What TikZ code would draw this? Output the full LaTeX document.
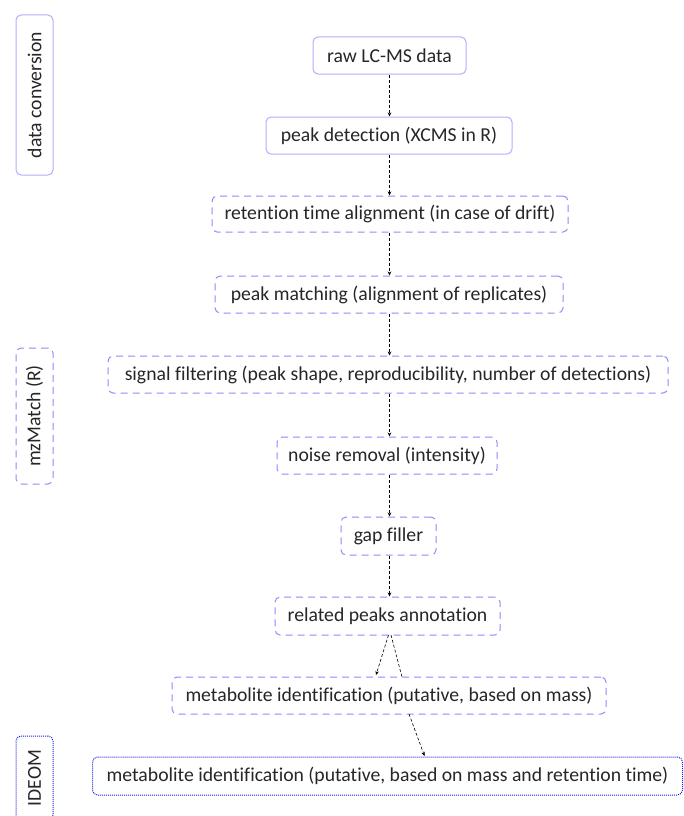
\documentclass[tikz,border=0pt]{standalone}
\usepackage{fontspec}
\setmainfont{Carlito}[Ligatures={NoCommon,NoContextual}]
\usetikzlibrary{arrows.meta}
\definecolor{solidc}{RGB}{175,175,250}
\definecolor{dashc}{RGB}{140,140,250}
\definecolor{dotc}{RGB}{30,30,230}
\begin{document}
\begin{tikzpicture}[x=1pt,y=-1pt,
  box/.style={draw, rounded corners=5pt, line width=1pt, inner sep=0pt, font=\fontsize{19.7}{22}\selectfont, text=black!85, align=center},
  solidbox/.style={box, draw=solidc},
  dashbox/.style={box, draw=dashc, dash pattern=on 7pt off 5pt},
  dotbox/.style={box, draw=dotc, dash pattern=on 1pt off 1pt},
  sidelabel/.style={rotate=90, font=\fontsize{19.7}{22}\selectfont, text=black!85},
  flow/.style={densely dashed, line width=0.6pt, -{Stealth[length=4pt,width=3.5pt]}},
  flowplain/.style={densely dashed, line width=0.6pt}]
\useasboundingbox (0,0) rectangle (683,816);
\begin{scope}
\clip (0,0) rectangle (683,816);
\node[solidbox, minimum width=37pt, minimum height=160pt] (dc) at (34.5,95) {};
\node[sidelabel] (dct) at (dc.center) {data conversion};
\node[dashbox, minimum width=37pt, minimum height=136pt] (mz) at (34.5,416) {};
\node[sidelabel] (mzt) at (mz.center) {mzMatch (R)};
\node[dotbox, minimum width=37pt, minimum height=84pt] (id) at (34.5,778) {};
\node[sidelabel] (idt) at (id.center) {IDEOM};
\end{scope}

\node[solidbox, minimum width=153pt, minimum height=37pt] (raw) at (389.5,55.5) {raw LC-MS data};
\node[solidbox, minimum width=246pt, minimum height=37pt] (pd) at (389,135.5) {peak detection (XCMS in R)};
\node[dashbox, minimum width=356pt, minimum height=36pt] (rta) at (390,214) {retention time alignment (in case of drift)};
\node[dashbox, minimum width=348pt, minimum height=37pt] (pm) at (389,294.5) {peak matching (alignment of replicates)};
\node[dashbox, minimum width=560pt, minimum height=37pt] (sf) at (388,374.5) {signal filtering (peak shape, reproducibility, number of detections)};
\node[dashbox, minimum width=220pt, minimum height=37pt] (nr) at (387,455.5) {noise removal (intensity)};
\node[dashbox, minimum width=95pt, minimum height=38pt] (gf) at (388.5,536) {gap filler};
\node[dashbox, minimum width=225pt, minimum height=38pt] (rpa) at (387.5,616) {related peaks annotation};
\node[dashbox, minimum width=434pt, minimum height=37pt] (mim) at (389,695.5) {metabolite identification (putative, based on mass)};
\node[dotbox, minimum width=590pt, minimum height=38pt] (mimr) at (387.5,776) {metabolite identification (putative, based on mass and retention time)};

\draw[flow] (raw.south -| 389.5,0) -- (pd.north -| 389.5,0);
\draw[flow] (pd.south -| 389.5,0) -- (rta.north -| 389.5,0);
\draw[flow] (rta.south -| 389.5,0) -- (pm.north -| 389.5,0);
\draw[flow] (pm.south -| 389.5,0) -- (sf.north -| 389.5,0);
\draw[flow] (sf.south -| 389.5,0) -- (nr.north -| 389.5,0);
\draw[flow] (nr.south -| 389.5,0) -- (gf.north -| 389.5,0);
\draw[flow] (gf.south -| 389.5,0) -- (rpa.north -| 389.5,0);
\coordinate (a1) at (388.5,635);
\coordinate (a2) at (376,675);
\coordinate (b1) at (391,635);
\coordinate (b2) at (402,677);
\draw[flow] (a1) -- (a2);
\draw[flowplain] (b1) -- (b2);
\coordinate (c1) at (409,714);
\coordinate (c2) at (424.5,756);
\draw[flow] (c1) -- (c2);
\end{tikzpicture}
\end{document}
